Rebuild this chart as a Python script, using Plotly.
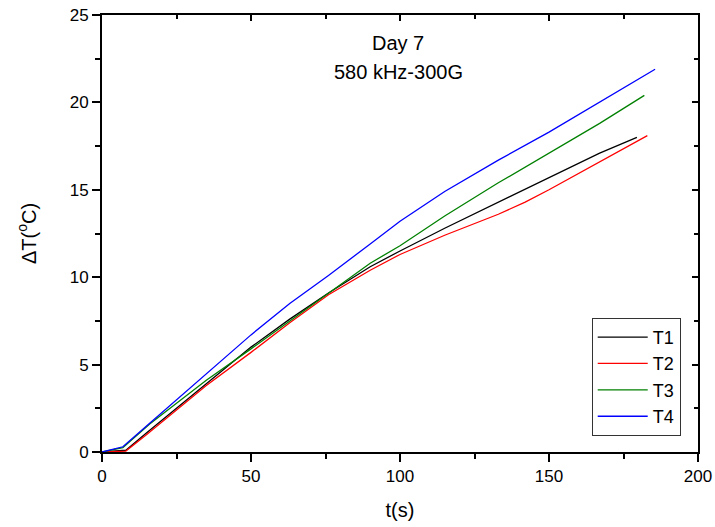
import plotly.graph_objects as go

# readings taken off the reference curves (time in s, temperature rise in degC)
t1_time = [0, 8, 15, 25, 35, 50, 63, 76, 90, 100, 115, 133, 150, 167, 179.5]
t1_temp = [0, 0.1, 1.1, 2.5, 3.9, 6.0, 7.6, 9.1, 10.6, 11.5, 12.8, 14.3, 15.7, 17.1, 18.0]

t2_time = [0, 8, 15, 25, 35, 50, 63, 76, 90, 100, 115, 133, 142, 150, 167, 183]
t2_temp = [0, 0.05, 1.0, 2.4, 3.8, 5.7, 7.4, 9.0, 10.4, 11.3, 12.4, 13.6, 14.3, 15.0, 16.6, 18.1]

t3_time = [0, 7, 16, 25, 35, 50, 63, 76, 90, 100, 115, 133, 150, 167, 182]
t3_temp = [0, 0.25, 1.6, 2.8, 4.1, 5.9, 7.5, 9.1, 10.8, 11.8, 13.5, 15.4, 17.1, 18.8, 20.4]

t4_time = [0, 7, 16, 25, 35, 50, 63, 76, 90, 100, 115, 133, 150, 167, 185.6]
t4_temp = [0, 0.3, 1.65, 3.0, 4.5, 6.7, 8.5, 10.1, 11.9, 13.2, 14.9, 16.7, 18.3, 20.0, 21.9]

series = [
    ("T1", t1_time, t1_temp, "black"),
    ("T2", t2_time, t2_temp, "red"),
    ("T3", t3_time, t3_temp, "green"),
    ("T4", t4_time, t4_temp, "blue"),
]

fig = go.Figure()
for name, x, y, col in series:
    fig.add_trace(go.Scatter(x=x, y=y, mode="lines", name=name,
                             line=dict(color=col, width=1.3)))

# empty trace so the top/right frame axes get drawn
fig.add_trace(go.Scatter(x=[None], y=[None], xaxis="x2", yaxis="y2",
                         showlegend=False, hoverinfo="skip"))

font = "Liberation Sans, Arial, sans-serif"

axis_common = dict(showline=True, linecolor="black", linewidth=2,
                   showgrid=False, zeroline=False, ticks="outside",
                   ticklen=8, tickwidth=1.5, tickcolor="black", automargin=False,
                   ticklabeloverflow="allow",
                   tickfont=dict(family=font, size=17, color="black"))

frame_common = dict(showline=True, linecolor="black", linewidth=2, showgrid=False,
                    zeroline=False, ticks="inside", ticklen=6, tickwidth=1.5,
                    tickcolor="black", showticklabels=False, automargin=False)

fig.update_layout(
    width=715, height=527,
    margin=dict(l=102, r=17, t=15, b=75),
    plot_bgcolor="white", paper_bgcolor="white",
    showlegend=True,
    xaxis=dict(range=[0, 200], dtick=50,
               minor=dict(ticks="outside", dtick=25, ticklen=5, tickcolor="black"),
               title=dict(text="t(s)", font=dict(family=font, size=20, color="black"), standoff=18),
               **axis_common),
    yaxis=dict(range=[0, 25], dtick=5,
               minor=dict(ticks="outside", dtick=2.5, ticklen=5, tickcolor="black"),
               title=dict(text="ΔT(<sup>o</sup>C)", font=dict(family=font, size=20, color="black"), standoff=28),
               **axis_common),
    xaxis2=dict(range=[0, 200], overlaying="x", side="top", dtick=50,
                minor=dict(ticks="inside", dtick=25, ticklen=4, tickcolor="black"),
                **frame_common),
    yaxis2=dict(range=[0, 25], overlaying="y", side="right", dtick=5,
                minor=dict(ticks="inside", dtick=2.5, ticklen=4, tickcolor="black"),
                **frame_common),
    legend=dict(x=0.971, y=0.037, xanchor="right", yanchor="bottom",
                bordercolor="#333", borderwidth=1, bgcolor="white",
                font=dict(family=font, size=18, color="black"),
                tracegroupgap=0, itemwidth=50),
    annotations=[
        dict(text="Day 7", x=0.497, y=0.936, xref="paper", yref="paper",
             xanchor="center", yanchor="middle",
             showarrow=False, font=dict(family=font, size=20, color="black")),
        dict(text="580 kHz-300G", x=0.497, y=0.87, xref="paper", yref="paper",
             xanchor="center", yanchor="middle",
             showarrow=False, font=dict(family=font, size=20, color="black")),
    ],
)

# drop the page's default body margin so the figure sits at the window corner
fig.write_html("out.html", config={"displayModeBar": False},
               post_script="document.body.style.margin='0';")
